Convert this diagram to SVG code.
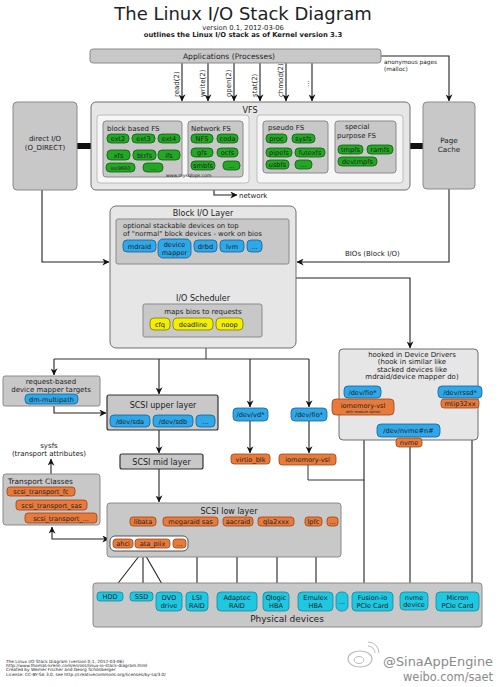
<svg xmlns="http://www.w3.org/2000/svg" width="500" height="687" viewBox="0 0 500 687">
<style>
text{font-family:"DejaVu Sans","Liberation Sans",sans-serif;fill:#222}
.c{text-anchor:middle}
.box{fill:#c8c8c8;stroke:#8a8a8a;stroke-width:1}
.lbox{fill:#e6e6e6;stroke:#6e6e6e;stroke-width:1}
.pan{fill:#f6f6f6;stroke:#b0b0b0;stroke-width:0.8}
.dk{fill:#c8c8c8;stroke:#333;stroke-width:1.2}
.gr{fill:#23a823;stroke:#0d5e0d;stroke-width:0.8}
.bl{fill:#2ea8e8;stroke:#15609a;stroke-width:0.8}
.or{fill:#e87b3c;stroke:#9a4414;stroke-width:0.8}
.ye{fill:#f2f000;stroke:#7a7a00;stroke-width:0.8}
.cy{fill:#1ec8e2;stroke:#14889c;stroke-width:0.8}
.p{font-size:6.6px}
.ln{fill:none;stroke:#333;stroke-width:1}
.la{fill:none;stroke:#222;stroke-width:1.1;marker-end:url(#a)}
</style>
<defs>
<marker id="a" viewBox="0 0 10 10" refX="9.5" refY="5" markerWidth="7" markerHeight="7" markerUnits="userSpaceOnUse" orient="auto-start-reverse">
<path d="M0,0 L10,5 L0,10 L3,5 z" fill="#111"/>
</marker>
</defs>
<rect width="500" height="687" fill="#ffffff"/>

<g id="title">
<text class="c" x="243" y="19.5" font-size="18">The Linux I/O Stack Diagram</text>
<text class="c" x="243" y="29.5" font-size="6.8">version 0.1, 2012-03-06</text>
<text class="c" x="243" y="36.8" font-size="6.8" font-weight="bold" fill="#333">outlines the Linux I/O stack as of Kernel version 3.3</text>
</g>

<g id="connectors">
<path class="la" d="M182,63 V101"/>
<path class="la" d="M208,63 V101"/>
<path class="la" d="M234,63 V101"/>
<path class="la" d="M260,63 V101"/>
<path class="la" d="M286,63 V101"/>
<path class="la" d="M312,63 V101"/>
<path class="la" d="M381,56 H449 V101"/>
<path class="la" d="M214,177 V195 H237"/>
<path class="la" d="M42,190 V262 H109"/>
<path class="la" d="M449,189 V262 H297"/>
<path class="la" d="M206,264 V291"/>
<path class="la" d="M206,278 H410 V348"/>
<path class="ln" d="M206,337 V359 M54,359 H309"/>
<path class="la" d="M54,359 V375"/>
<path class="la" d="M159,359 V394"/>
<path class="la" d="M250,359 V407"/>
<path class="la" d="M309,359 V407"/>
<path class="la" d="M54,406 V413 H106"/>
<path class="la" d="M159,430 V453"/>
<path class="la" d="M51,474 V459"/>
<path class="la" d="M52,527 V539 H109" marker-start="url(#a)"/>
<path class="la" d="M159,469 V502"/>
<path class="la" d="M250,421 V453"/>
<path class="la" d="M309,421 V453"/>
<path class="ln" d="M308,465 V480 H364"/>
<path class="la" d="M143,526 V535"/>
<path class="la" d="M143,551 L112,591"/>
<path class="la" d="M143,551 V591"/>
<path class="la" d="M143,551 L166,591"/>
<path class="la" d="M197,526 V591"/>
<path class="la" d="M237,526 V591"/>
<path class="la" d="M277,526 V591"/>
<path class="la" d="M316,526 V591"/>
<path class="la" d="M364,415 V591"/>
<path class="la" d="M410,447 V591"/>
<path class="la" d="M472,407 V591"/>
<rect x="77" y="143" width="14" height="6" fill="#111"/>
<rect x="410" y="143" width="13" height="6" fill="#111"/>
</g>

<g id="syscalls" font-size="7">
<text transform="translate(178.5,97) rotate(-90)">read(2)</text>
<text transform="translate(204.5,97) rotate(-90)">write(2)</text>
<text transform="translate(230.5,97) rotate(-90)">open(2)</text>
<text transform="translate(256.5,97) rotate(-90)">stat(2)</text>
<text transform="translate(282.5,97) rotate(-90)">chmod(2)</text>
<text transform="translate(308.5,87) rotate(-90)">...</text>
<text x="384" y="63.5" font-size="5.8">anonymous pages</text>
<text x="384" y="71" font-size="5.8">(malloc)</text>
<text x="239" y="198" font-size="7">network</text>
<text x="345" y="256" font-size="7">BIOs (Block I/O)</text>
</g>

<g id="applications">
<rect class="box" x="90" y="49" width="291" height="14" rx="3"/>
<text class="c" x="229" y="59" font-size="7.6">Applications (Processes)</text>
</g>

<g id="direct-io">
<rect class="box" x="13" y="102" width="64" height="88" rx="4"/>
<text class="c" x="45" y="141" font-size="7">direct I/O</text>
<text class="c" x="45" y="150" font-size="7">(O_DIRECT)</text>
</g>

<g id="page-cache">
<rect class="box" x="423" y="102" width="52" height="87" rx="4"/>
<text class="c" x="449" y="143" font-size="7.2">Page</text>
<text class="c" x="449" y="152" font-size="7.2">Cache</text>
</g>

<g id="vfs">
<rect class="lbox" x="91" y="102" width="319" height="88" rx="5"/>
<text class="c" x="250" y="113" font-size="8">VFS</text>
<rect class="pan" x="97" y="115" width="152" height="68" rx="3"/>
<rect class="pan" x="257" y="115" width="146" height="68" rx="3"/>
<rect class="box" x="103" y="121" width="79" height="56" rx="3"/>
<text x="107" y="130.5" font-size="7">block based FS</text>
<rect class="gr" x="107" y="134" width="22" height="9" rx="4"/><text class="c p" x="118" y="141">ext2</text>
<rect class="gr" x="132" y="134" width="23" height="9" rx="4"/><text class="c p" x="143.5" y="141">ext3</text>
<rect class="gr" x="158" y="134" width="22" height="9" rx="4"/><text class="c p" x="169" y="141">ext4</text>
<rect class="gr" x="107" y="150" width="23" height="10" rx="4"/><text class="c p" x="118.5" y="157.5">xfs</text>
<rect class="gr" x="133" y="150" width="23" height="10" rx="4"/><text class="c p" x="144.5" y="157.5">btrfs</text>
<rect class="gr" x="158" y="150" width="22" height="10" rx="4"/><text class="c p" x="169" y="157.5">ifs</text>
<rect class="gr" x="106" y="163" width="29" height="9" rx="4"/><text class="c" x="120.5" y="169.5" font-size="5">iso9660</text>
<rect class="gr" x="143" y="163" width="20" height="9" rx="4"/><text class="c p" x="153" y="169.5">...</text>
<rect class="box" x="188" y="121" width="55" height="56" rx="3"/>
<text x="191" y="130.5" font-size="7">Network FS</text>
<rect class="gr" x="191" y="134" width="22" height="9" rx="4"/><text class="c p" x="202" y="141">NFS</text>
<rect class="gr" x="217" y="134" width="21" height="9" rx="4"/><text class="c p" x="227.5" y="141">coda</text>
<rect class="gr" x="191" y="148" width="22" height="9" rx="4"/><text class="c p" x="202" y="155">gfs</text>
<rect class="gr" x="217" y="148" width="21" height="9" rx="4"/><text class="c p" x="227.5" y="155">ocfs</text>
<rect class="gr" x="191" y="161" width="24" height="9" rx="4"/><text class="c p" x="203" y="168">smbfs</text>
<rect class="gr" x="223" y="161" width="17" height="9" rx="4"/><text class="c p" x="231.5" y="168">...</text>
<text x="166" y="176.5" font-size="4.6" fill="#444" font-family="DejaVu Sans Mono, monospace">www.mysqlops.com</text>
<rect class="box" x="263" y="121" width="65" height="52" rx="3"/>
<text x="268" y="130" font-size="7">pseudo FS</text>
<rect class="gr" x="266" y="134" width="21" height="9" rx="4"/><text class="c p" x="276.5" y="141">proc</text>
<rect class="gr" x="292" y="134" width="23" height="9" rx="4"/><text class="c p" x="303.5" y="141">sysfs</text>
<rect class="gr" x="266" y="148" width="26" height="9" rx="4"/><text class="c p" x="279" y="155">pipefs</text>
<rect class="gr" x="295" y="148" width="30" height="9" rx="4"/><text class="c p" x="310" y="155">futexfs</text>
<rect class="gr" x="266" y="160" width="23" height="9" rx="4"/><text class="c p" x="277.5" y="167">usbfs</text>
<rect class="gr" x="295" y="160" width="17" height="9" rx="4"/><text class="c p" x="303.5" y="167">...</text>
<rect class="box" x="335" y="121" width="61" height="52" rx="3"/>
<text x="345" y="128.5" font-size="7">special</text>
<text x="337" y="137.5" font-size="7">purpose FS</text>
<rect class="gr" x="338" y="145" width="25" height="9" rx="4"/><text class="c p" x="350.5" y="152">tmpfs</text>
<rect class="gr" x="367" y="145" width="26" height="9" rx="4"/><text class="c p" x="380" y="152">ramfs</text>
<rect class="gr" x="338" y="157" width="39" height="9" rx="4"/><text class="c p" x="357.5" y="164">devtmpfs</text>
</g>

<g id="block-io-layer">
<rect class="lbox" x="110" y="206" width="186" height="142" rx="6"/>
<text class="c" x="203" y="216" font-size="8">Block I/O Layer</text>
<rect class="box" x="116" y="219" width="173" height="45" rx="2"/>
<text x="123" y="228" font-size="6.9">optional stackable devices on top</text>
<text x="123" y="235.5" font-size="6.9">of "normal" block devices - work on bios</text>
<rect class="bl" x="123" y="240" width="33" height="12" rx="4"/><text class="c p" x="139.5" y="248.5">mdraid</text>
<rect class="bl" x="158" y="239" width="33" height="19" rx="5"/><text class="c p" x="174.5" y="247">device</text><text class="c p" x="174.5" y="255">mapper</text>
<rect class="bl" x="194" y="240" width="23" height="12" rx="4"/><text class="c p" x="205.5" y="248.5">drbd</text>
<rect class="bl" x="220" y="240" width="24" height="12" rx="4"/><text class="c p" x="232" y="248.5">lvm</text>
<rect class="bl" x="247" y="240" width="15" height="12" rx="4"/><text class="c p" x="254.5" y="248.5">...</text>
<text class="c" x="203" y="301" font-size="8">I/O Scheduler</text>
<rect class="box" x="143" y="304" width="119" height="33" rx="2"/>
<text class="c" x="203" y="313.5" font-size="7">maps bios to requests</text>
<rect class="ye" x="150" y="318" width="20" height="12" rx="4"/><text class="c p" x="160" y="326.5">cfq</text>
<rect class="ye" x="173" y="318" width="40" height="12" rx="4"/><text class="c p" x="193" y="326.5">deadline</text>
<rect class="ye" x="216" y="318" width="27" height="12" rx="4"/><text class="c p" x="229.5" y="326.5">noop</text>
</g>

<g id="request-based">
<rect class="box" x="3" y="376" width="97" height="30" rx="2"/>
<text class="c" x="51" y="384" font-size="7">request-based</text>
<text class="c" x="51" y="391.5" font-size="7">device mapper targets</text>
<rect class="bl" x="25" y="394" width="53" height="10" rx="4"/><text class="c p" x="51.5" y="401.5">dm-multipath</text>
</g>

<g id="scsi-upper">
<rect class="dk" x="107" y="395" width="111" height="35" rx="2"/>
<text class="c" x="163" y="407.5" font-size="8">SCSI upper layer</text>
<rect class="bl" x="110" y="415" width="40" height="12" rx="4"/><text class="c p" x="130" y="423.5">/dev/sda</text>
<rect class="bl" x="153" y="415" width="40" height="12" rx="4"/><text class="c p" x="173" y="423.5">/dev/sdb</text>
<rect class="bl" x="196" y="415" width="19" height="12" rx="4"/><text class="c p" x="205.5" y="423.5">...</text>
</g>

<g id="scsi-mid">
<rect class="dk" x="120" y="454" width="83" height="15" rx="2"/>
<text class="c" x="161.5" y="465" font-size="8">SCSI mid layer</text>
</g>

<g id="sysfs">
<text class="c" x="49" y="448" font-size="7">sysfs</text>
<text class="c" x="49" y="455.5" font-size="7">(transport attributes)</text>
</g>

<g id="transport-classes">
<rect class="box" x="3" y="474" width="97" height="51" rx="3"/>
<text x="8" y="483.5" font-size="7.4">Transport Classes</text>
<rect class="or" x="7" y="487" width="68" height="9" rx="3"/><text class="c p" x="41" y="494">scsi_transport_fc</text>
<rect class="or" x="16" y="500" width="71" height="10" rx="3"/><text class="c p" x="51.5" y="507.5">scsi_transport_sas</text>
<rect class="or" x="25" y="513" width="72" height="10" rx="3"/><text class="c p" x="61" y="520.5">scsi_transport_...</text>
</g>

<g id="scsi-low">
<rect class="box" x="107" y="503" width="234" height="54" rx="3"/>
<text class="c" x="229" y="514" font-size="8">SCSI low layer</text>
<rect class="or" x="130" y="517" width="26" height="9" rx="3"/><text class="c p" x="143" y="524">libata</text>
<rect class="or" x="163" y="517" width="55" height="9" rx="3"/><text class="c p" x="190.5" y="524">megaraid sas</text>
<rect class="or" x="223" y="517" width="30" height="9" rx="3"/><text class="c p" x="238" y="524">aacraid</text>
<rect class="or" x="258" y="517" width="36" height="9" rx="3"/><text class="c p" x="276" y="524">qla2xxx</text>
<rect class="or" x="305" y="517" width="17" height="9" rx="3"/><text class="c p" x="313.5" y="524">lpfc</text>
<rect class="or" x="327" y="517" width="11" height="9" rx="3"/><text class="c p" x="332.5" y="524">...</text>
<rect x="110" y="536" width="78" height="15" rx="5" fill="#ffffff" stroke="#444" stroke-width="0.9"/>
<rect class="or" x="113" y="539" width="20" height="9" rx="3"/><text class="c p" x="123" y="546">ahci</text>
<rect class="or" x="135" y="539" width="35" height="9" rx="3"/><text class="c p" x="152.5" y="546">ata_piix</text>
<rect class="or" x="173" y="539" width="13" height="9" rx="3"/><text class="c p" x="179.5" y="546">...</text>
</g>

<g id="virtio">
<rect class="bl" x="233" y="408" width="35" height="13" rx="4"/><text class="c p" x="250.5" y="417">/dev/vd*</text>
<rect class="or" x="231" y="454" width="39" height="10" rx="3"/><text class="c p" x="250.5" y="461.5">virtio_blk</text>
</g>

<g id="fusion-io">
<rect class="bl" x="291" y="408" width="36" height="13" rx="4"/><text class="c p" x="309" y="417">/dev/fio*</text>
<rect class="or" x="279" y="454" width="57" height="11" rx="3"/><text class="c p" x="307.5" y="462">iomemory-vsl</text>
</g>

<g id="hooked-drivers">
<rect class="lbox" x="339" y="349" width="139" height="91" rx="4"/>
<text class="c" x="412" y="356.5" font-size="7">hooked in Device Drivers</text>
<text class="c" x="412" y="364" font-size="7">(hook in similar like</text>
<text class="c" x="412" y="371.5" font-size="7">stacked devices like</text>
<text class="c" x="412" y="379" font-size="7">mdraid/device mapper do)</text>
<rect class="bl" x="344" y="386" width="37" height="12" rx="4"/><text class="c p" x="362.5" y="394.5">/dev/fio*</text>
<rect class="or" x="332" y="399" width="62" height="16" rx="4"/><text class="c p" x="363" y="407.5">iomemory-vsl</text><text class="c" x="363" y="413" font-size="3.6">with module option</text>
<rect class="bl" x="438" y="386" width="44" height="12" rx="4"/><text class="c p" x="460" y="394.5">/dev/rssd*</text>
<rect class="or" x="441" y="399" width="38" height="9" rx="3"/><text class="c p" x="460" y="406">mtip32xx</text>
<rect class="bl" x="377" y="424" width="63" height="13" rx="4"/><text class="c p" x="408.5" y="433">/dev/nvme#n#</text>
<rect class="or" x="396" y="438" width="26" height="9" rx="3"/><text class="c p" x="409" y="445">nvme</text>
</g>

<g id="physical-devices">
<rect class="box" x="93" y="583" width="389" height="44" rx="3"/>
<text class="c" x="287" y="622" font-size="9">Physical devices</text>
<rect class="cy" x="97" y="592" width="26" height="9" rx="3"/><text class="c p" x="110" y="599">HDD</text>
<rect class="cy" x="130" y="592" width="23" height="9" rx="3"/><text class="c p" x="141.5" y="599">SSD</text>
<rect class="cy" x="156" y="592" width="26" height="19" rx="4"/><text class="c p" x="169" y="599.5">DVD</text><text class="c p" x="169" y="607.5">drive</text>
<rect class="cy" x="186" y="592" width="22" height="19" rx="4"/><text class="c p" x="197" y="599.5">LSI</text><text class="c p" x="197" y="607.5">RAID</text>
<rect class="cy" x="217" y="592" width="40" height="19" rx="4"/><text class="c p" x="237" y="599.5">Adaptec</text><text class="c p" x="237" y="607.5">RAID</text>
<rect class="cy" x="263" y="592" width="26" height="19" rx="4"/><text class="c p" x="276" y="599.5">Qlogic</text><text class="c p" x="276" y="607.5">HBA</text>
<rect class="cy" x="298" y="592" width="35" height="19" rx="4"/><text class="c p" x="315.5" y="599.5">Emulex</text><text class="c p" x="315.5" y="607.5">HBA</text>
<rect class="cy" x="336" y="592" width="12" height="19" rx="5"/><text class="c p" x="342" y="603.5">...</text>
<rect class="cy" x="352" y="592" width="41" height="19" rx="4"/><text class="c p" x="372.5" y="599.5">Fusion-io</text><text class="c p" x="372.5" y="607.5">PCIe Card</text>
<rect class="cy" x="400" y="592" width="28" height="18" rx="4"/><text class="c p" x="414" y="599.5">nvme</text><text class="c p" x="414" y="607">device</text>
<rect class="cy" x="436" y="592" width="43" height="19" rx="4"/><text class="c p" x="457.5" y="599.5">Micron</text><text class="c p" x="457.5" y="607.5">PCIe Card</text>
</g>

<g id="footer" font-size="4.3">
<text x="6" y="663">The Linux I/O Stack Diagram (version 0.1, 2012-03-06)</text>
<text x="6" y="667.2">http://www.thomas-krenn.com/en/oss/linux-io-stack-diagram.html</text>
<text x="6" y="671.4">Created by Werner Fischer and Georg Schönberger</text>
<text x="6" y="675.6">License: CC-BY-SA 3.0, see http://creativecommons.org/licenses/by-sa/3.0/</text>
</g>

<g id="watermark">
<ellipse cx="360" cy="659" rx="12" ry="8" fill="none" stroke="#bbb" stroke-width="1.2"/>
<ellipse cx="359" cy="660" rx="5" ry="3.5" fill="none" stroke="#bbb" stroke-width="1"/>
<path d="M368,646 a7,7 0 0 1 7,7 M368,642 a11,11 0 0 1 11,11" fill="none" stroke="#bbb" stroke-width="1"/>
<text x="383" y="666" font-size="12" textLength="110" lengthAdjust="spacingAndGlyphs" style="fill:#8a8a8a">@SinaAppEngine</text>
<text x="403" y="681" font-size="12" textLength="90" lengthAdjust="spacingAndGlyphs" style="fill:#8a8a8a">weibo.com/saet</text>
</g>
</svg>
